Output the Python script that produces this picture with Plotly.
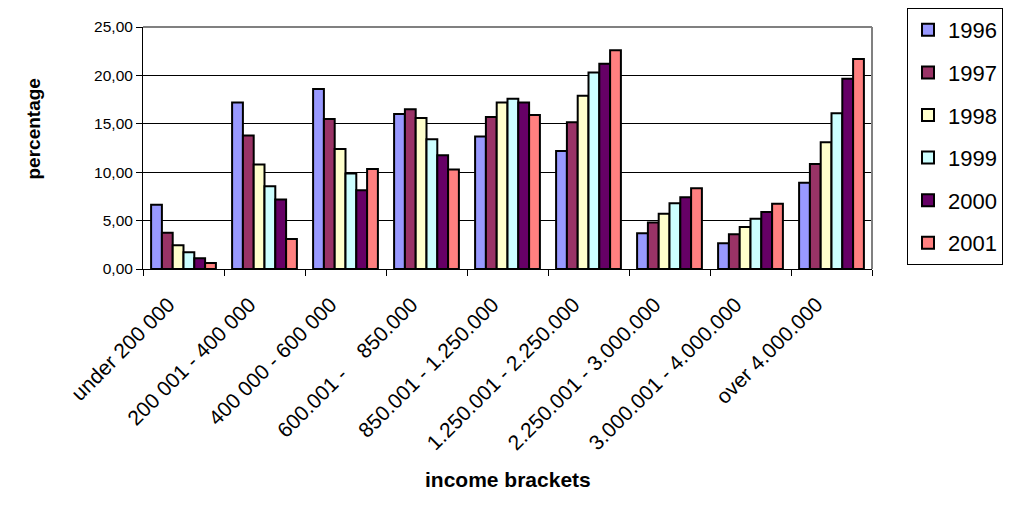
import plotly.graph_objects as go

categories = ["under 200 000", "200 001 - 400 000", "400 000 - 600 000", "600.001 -    850.000",
              "850.001 - 1.250.000", "1.250.001 - 2.250.000", "2.250.001 - 3.000.000",
              "3.000.001 - 4.000.000", "over 4.000.000"]
years = ["1996", "1997", "1998", "1999", "2000", "2001"]
v1996 = [6.65, 17.2, 18.6, 16.0, 13.7, 12.2, 3.7, 2.65, 8.9]
v1997 = [3.75, 13.8, 15.5, 16.5, 15.7, 15.15, 4.8, 3.6, 10.85]
v1998 = [2.45, 10.8, 12.4, 15.6, 17.2, 17.9, 5.7, 4.35, 13.1]
v1999 = [1.73, 8.55, 9.86, 13.4, 17.6, 20.3, 6.8, 5.2, 16.1]
v2000 = [1.1, 7.17, 8.14, 11.75, 17.2, 21.2, 7.4, 5.9, 19.65]
v2001 = [0.62, 3.1, 10.34, 10.27, 15.9, 22.6, 8.35, 6.75, 21.7]
series = [v1996, v1997, v1998, v1999, v2000, v2001]
colors = ["#9999FF", "#993366", "#FFFFCC", "#CCFFFF", "#660066", "#FF8080"]
y_ticks = [0, 5, 10, 15, 20, 25]

FONT = "Liberation Sans, Arial, sans-serif"
OFF = 8  # page body margin
W, H = 1016 - OFF, 507 - OFF

fig = go.Figure()
for name, vals, col in zip(years, series, colors):
    fig.add_trace(go.Bar(x=categories, y=vals, name=name, legendgroup=name,
                         marker=dict(color=col, line=dict(color="black", width=2))))

fig.update_layout(
    width=W, height=H,
    margin=dict(l=143 - OFF, r=144, t=27 - OFF, b=238),
    paper_bgcolor="white", plot_bgcolor="white",
    barmode="group", bargap=0.2, bargroupgap=0,
    separators=", ",
    font=dict(family=FONT, color="black"),
    showlegend=True,
    legend=dict(xref="container", yref="container",
                x=(907 - OFF) / W, xanchor="left", y=1.0, yanchor="top",
                bordercolor="black", borderwidth=1, bgcolor="white",
                font=dict(size=22, family=FONT),
                traceorder="grouped", tracegroupgap=11,
                itemwidth=30, entrywidth=150, maxheight=H),
    xaxis=dict(tickangle=-45, ticks="outside", tickson="boundaries", ticklen=6,
               tickcolor="black", tickfont=dict(size=21), showline=True, linecolor="black",
               linewidth=1, mirror=False, automargin=False,
               ticklabelstandoff=14, ticklabelshift=-15),
    yaxis=dict(range=[0, 25], tickvals=y_ticks, tickformat=".2f", ticks="outside", ticklen=6,
               tickcolor="black", tickfont=dict(size=15.5), showgrid=True, gridcolor="black",
               gridwidth=1, showline=True, linecolor="black", linewidth=1, automargin=False,
               zeroline=False),
    shapes=[
        dict(type="line", xref="paper", yref="paper", x0=0, x1=1, y0=1, y1=1,
             line=dict(color="#808080", width=2)),
        dict(type="line", xref="paper", yref="paper", x0=1, x1=1, y0=0, y1=1,
             line=dict(color="#808080", width=2)),
    ],
    annotations=[
        dict(text="<b>percentage</b>", xref="paper", yref="paper",
             x=(20 - 143) / 729, y=(269 - 129) / 242,
             textangle=-90, showarrow=False, font=dict(size=19)),
        dict(text="<b>income brackets</b>", xref="paper", yref="paper",
             x=(508 - 143) / 729, y=(269 - 493) / 242,
             showarrow=False, font=dict(size=21)),
    ],
)

fig.write_html("out.html")
